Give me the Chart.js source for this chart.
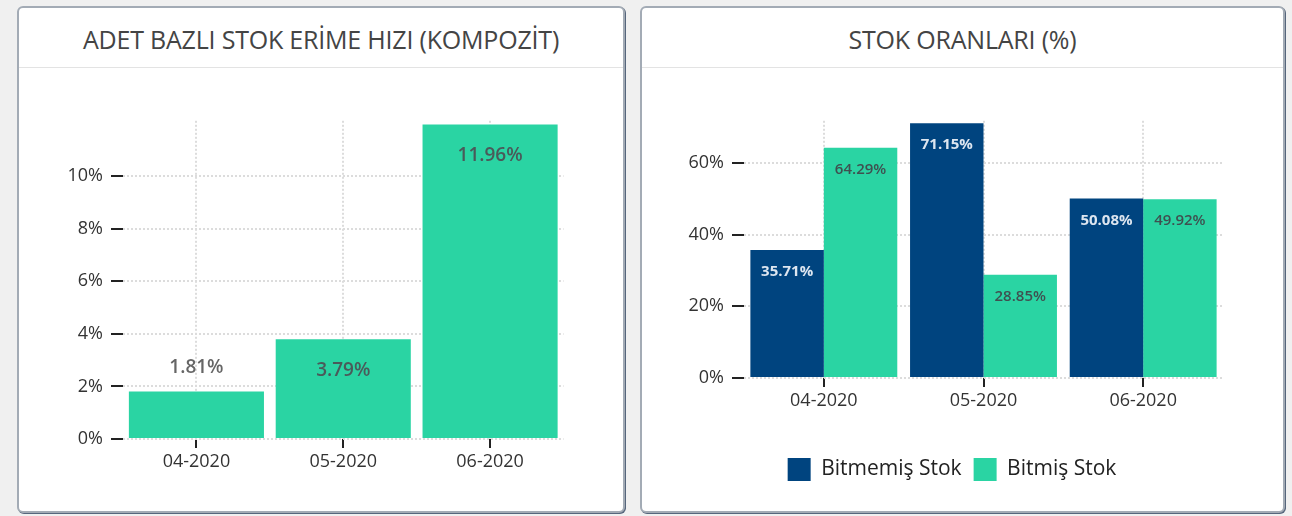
<!DOCTYPE html>
<html>
<head>
<meta charset="utf-8">
<script src="https://cdn.jsdelivr.net/npm/chart.js@4.4.0/dist/chart.umd.min.js"></script>
<style>
body { margin: 0; width: 1292px; height: 516px; background: #f0f0f0; position: relative; overflow: hidden; font-family: "Open Sans", sans-serif; }
.card { position: absolute; top: 6px; height: 503px; background: #fff; border: 2px solid #a3abb5; border-radius: 6px; box-shadow: 1px 1px 0 #56667c; }
.title { height: 59px; line-height: 62px; text-align: center; border-bottom: 1px solid #e3e3e3; font-size: 25px; color: #444; white-space: nowrap; letter-spacing: -0.2px; }
.box { position: absolute; }
</style>
</head>
<body>
<div class="card" style="left:17px;width:604px;"><div class="title">ADET BAZLI STOK ERİME HIZI (KOMPOZİT)</div></div>
<div class="card" style="left:640px;width:641px;"><div class="title">STOK ORANLARI (%)</div></div>
<div class="box" style="left:30px;top:102px;width:550px;height:388px;"><canvas id="erime"></canvas></div>
<div class="box" style="left:660px;top:102px;width:584px;height:389px;"><canvas id="oran"></canvas></div>
<script>
var months = ['04-2020', '05-2020', '06-2020'];
var erimeHizi = [1.81, 3.79, 11.96];
var erimeTicks = [0, 2, 4, 6, 8, 10];
var bitmemis = [35.71, 71.15, 50.08];
var bitmis = [64.29, 28.85, 49.92];
var oranTicks = [0, 20, 40, 60];

var green = '#2ad4a3';
var navy = '#00447f';

// writes the value on each bar, inside near the top or above when the bar is too short
var barLabels = {
	id: 'barLabels',
	afterDatasetsDraw: function(chart, args, opts) {
		var ctx = chart.ctx;
		ctx.save();
		ctx.textAlign = 'center';
		ctx.textBaseline = 'middle';
		chart.data.datasets.forEach(function(ds, i) {
			chart.getDatasetMeta(i).data.forEach(function(bar, j) {
				var h = bar.base - bar.y;
				var y = h > opts.minInside ? bar.y + opts.inside : bar.y - opts.above;
				ctx.font = opts.fonts[i];
				ctx.fillStyle = h > opts.minInside ? opts.colors[i] : opts.outsideColor;
				ctx.fillText(ds.data[j].toFixed(2) + '%', bar.x, y);
			});
		});
		ctx.restore();
	}
};

function yAxis(ticks, max, width) {
	return {
		min: 0,
		max: max,
		afterBuildTicks: function(axis) { axis.ticks = ticks.map(function(v) { return { value: v }; }); },
		afterFit: function(s) { s.width = width; },
		border: { display: false, dash: [2, 2] },
		grid: { color: '#dcdcdc', lineWidth: 2, tickColor: '#222', tickWidth: 2, tickLength: 12, tickBorderDash: [] },
		ticks: { color: '#333', padding: 8, font: { family: 'Open Sans', size: 18 }, callback: function(v) { return v + '%'; } }
	};
}
function xAxis(height, padRight) {
	return {
		afterFit: function(s) {
			s.height = height;
			if (padRight) s.paddingRight = padRight; // keeps the plot narrower than the legend row
		},
		border: { display: false, dash: [2, 2] },
		grid: { offset: false, color: '#dcdcdc', lineWidth: 2, tickColor: '#222', tickWidth: 2, tickLength: 9, tickBorderDash: [] },
		ticks: { color: '#333', padding: 3, font: { family: 'Open Sans', size: 18 } }
	};
}

new Chart(document.getElementById('erime'), {
	type: 'bar',
	data: {
		labels: months,
		datasets: [{ label: 'Erime Hızı', data: erimeHizi, backgroundColor: green, barPercentage: 0.92, categoryPercentage: 1 }]
	},
	options: {
		responsive: true,
		maintainAspectRatio: false,
		animation: false,
		events: [],
		layout: { padding: { top: 11, right: 16.5, left: 0, bottom: 0 } },
		scales: { x: xAxis(51), y: yAxis(erimeTicks, 12.1, 93) },
		plugins: {
			legend: { display: false },
			tooltip: { enabled: false },
			barLabels: { fonts: ['600 19px "Open Sans"'], minInside: 60, inside: 31, above: 24, colors: ['#4a5a5a'], outsideColor: '#666' }
		}
	},
	plugins: [barLabels]
});

new Chart(document.getElementById('oran'), {
	type: 'bar',
	data: {
		labels: months,
		datasets: [
			{ label: 'Bitmemiş Stok', data: bitmemis, backgroundColor: navy, barPercentage: 1, categoryPercentage: 0.92 },
			{ label: 'Bitmiş Stok', data: bitmis, backgroundColor: green, barPercentage: 1, categoryPercentage: 0.92 }
		]
	},
	options: {
		responsive: true,
		maintainAspectRatio: false,
		animation: false,
		events: [],
		layout: { padding: { top: 11, right: 0, left: 0, bottom: 0 } },
		scales: { x: xAxis(68, 21), y: yAxis(oranTicks, 71.8, 84) },
		plugins: {
			legend: {
				position: 'bottom',
				labels: { boxWidth: 23, boxHeight: 23, padding: 12, color: '#222', font: { family: 'Open Sans', size: 21 } }
			},
			tooltip: { enabled: false },
			barLabels: { fonts: ['bold 15px "Open Sans"', '600 15px "Open Sans"'], minInside: 40, inside: 22, above: 20, colors: ['#dde6f0', '#3f5050'], outsideColor: '#666' }
		}
	},
	plugins: [barLabels]
});
</script>
</body>
</html>
